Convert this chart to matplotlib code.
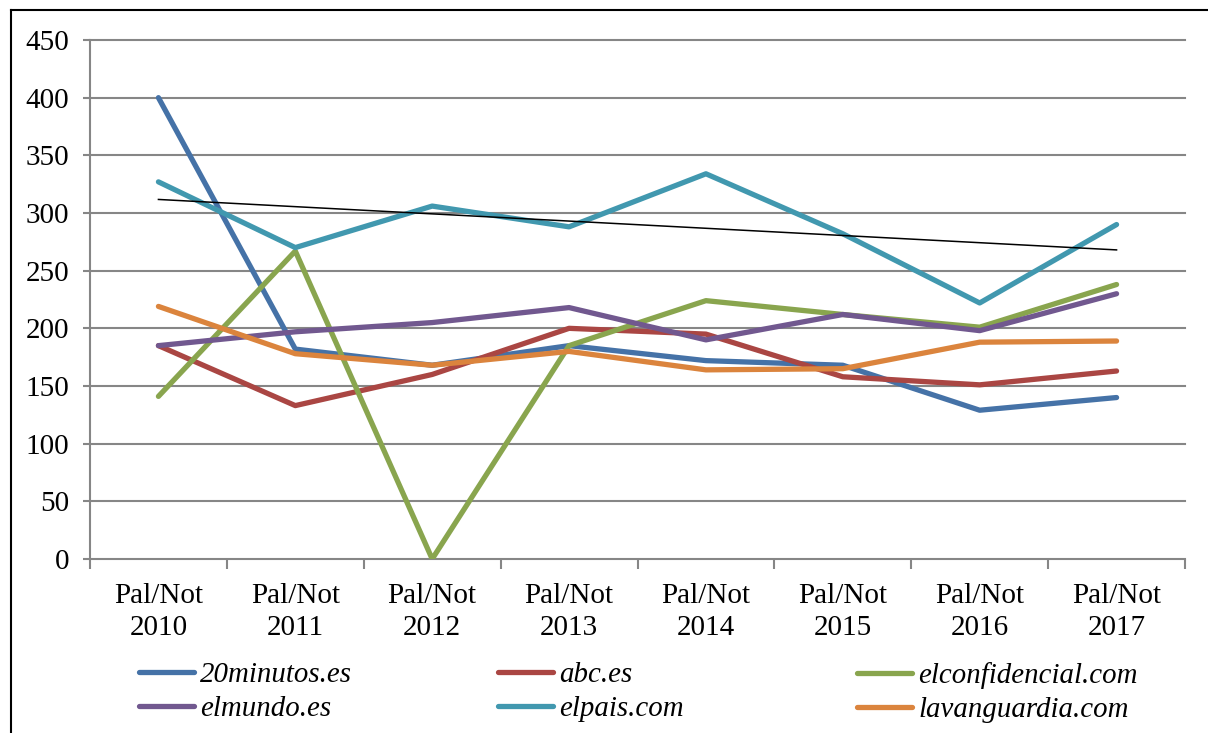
import numpy as np
import matplotlib
matplotlib.use("Agg")
import matplotlib.pyplot as plt
from matplotlib.lines import Line2D

categories = ["Pal/Not\n2010", "Pal/Not\n2011", "Pal/Not\n2012", "Pal/Not\n2013",
              "Pal/Not\n2014", "Pal/Not\n2015", "Pal/Not\n2016", "Pal/Not\n2017"]
minutos20 = [400, 182, 168, 185, 172, 168, 129, 140]
abc = [185, 133, 160, 200, 195, 158, 151, 163]
elconfidencial = [141, 267, 0, 185, 224, 212, 201, 238]
elmundo = [185, 197, 205, 218, 190, 212, 198, 230]
elpais = [327, 270, 306, 288, 334, 282, 222, 290]
lavanguardia = [219, 178, 168, 180, 164, 165, 188, 189]

series_names = ["20minutos.es", "abc.es", "elconfidencial.com",
                "elmundo.es", "elpais.com", "lavanguardia.com"]
series_values = [minutos20, abc, elconfidencial, elmundo, elpais, lavanguardia]
colors = ["#4572A7", "#AA4643", "#89A54E", "#71588F", "#4198AF", "#DB843D"]
yticks = [0, 50, 100, 150, 200, 250, 300, 350, 400, 450]

plt.rcParams['font.family'] = ['Liberation Serif', 'DejaVu Serif']

W, H = 1208, 733
fig = plt.figure(figsize=(W / 100, H / 100), dpi=100)
ax = fig.add_axes([90 / W, 1 - 559 / H, (1185 - 90) / W, (559 - 40) / H])

x = np.arange(len(categories))
handles = []
for name, vals, c in zip(series_names, series_values, colors):
    h, = ax.plot(x, vals, color=c, lw=3.8, solid_capstyle='round',
                 solid_joinstyle='round', label=name, zorder=3)
    handles.append(h)

# linear trend of elpais.com
coef = np.polyfit(x, elpais, 1)
ax.plot(x, np.polyval(coef, x), color='black', lw=1.1, zorder=4)

grid_c = '#868686'
ax.set_xlim(-0.5, len(categories) - 0.5)
ax.set_ylim(0, 450)
ax.set_yticks(yticks)
ax.set_yticklabels([str(v) for v in yticks], fontsize=21)
for v in yticks[1:]:
    ax.axhline(v, color=grid_c, lw=1.5, zorder=1, clip_on=False)

ax.set_xticks(np.arange(-0.5, len(categories), 1))
ax.set_xticklabels([])
ax.set_xticks(x, minor=True)
ax.set_xticklabels(categories, minor=True, fontsize=21, linespacing=1.3)
ax.tick_params(axis='x', which='major', length=7, width=1.5, color=grid_c, direction='out')
ax.tick_params(axis='x', which='minor', length=0, pad=17)
ax.tick_params(axis='y', length=5, width=1.5, color=grid_c, direction='out', pad=10)

for s in ['top', 'right']:
    ax.spines[s].set_visible(False)
for s in ['left', 'bottom']:
    ax.spines[s].set_color(grid_c)
    ax.spines[s].set_linewidth(1.5)

# legend: three columns, each its own legend
col_x = [139 / W, 498 / W, 857 / W]
for i in range(3):
    hs = [handles[i], handles[i + 3]]
    leg = fig.legend(hs, [h.get_label() for h in hs], loc='upper left',
                     bbox_to_anchor=(col_x[i], 1 - 662 / H), frameon=False,
                     borderpad=0, borderaxespad=0, handlelength=1.9,
                     handletextpad=0.22, labelspacing=0.26,
                     prop={'family': 'Liberation Serif', 'style': 'italic', 'size': 20.8})

# outer frame (top and left edges visible)
fig.add_artist(Line2D([11 / W, 11 / W], [0, 1 - 10 / H], color='black', lw=1.5,
                      transform=fig.transFigure))
fig.add_artist(Line2D([11 / W, 1], [1 - 10 / H, 1 - 10 / H], color='black', lw=1.5,
                      transform=fig.transFigure))

fig.savefig('out.png', dpi=100)
